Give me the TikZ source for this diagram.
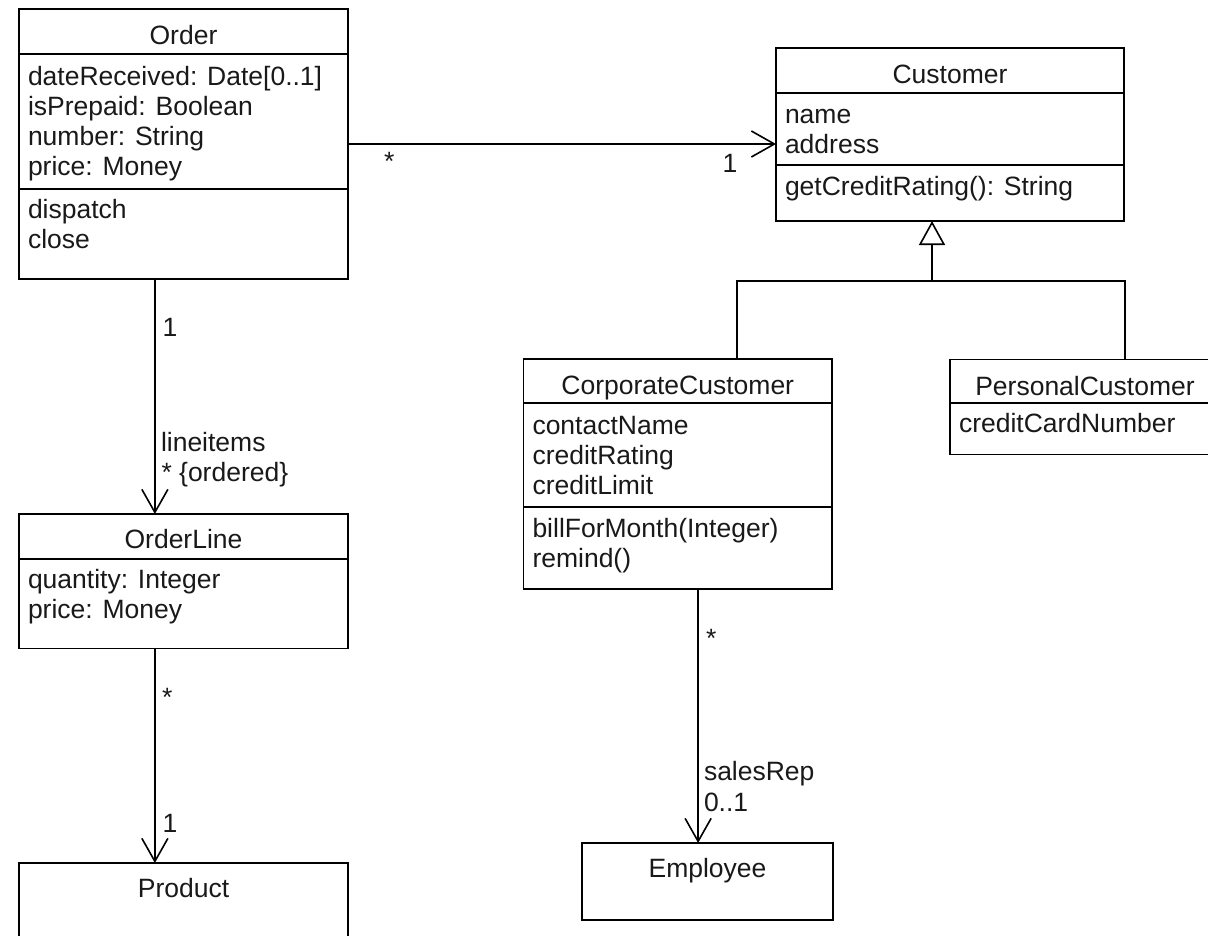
\documentclass[tikz,border=0pt]{standalone}
\usepackage{fontspec}
\setmainfont{Liberation Sans}
\usetikzlibrary{arrows.meta,calc}
\newcommand\umlfont{\fontsize{26.5}{30}\selectfont}
\tikzset{
  box/.style={draw, line width=1.6pt, rectangle, anchor=north west, inner sep=0pt, outer sep=0pt},
  sepline/.style={line width=1.6pt},
  lbl/.style={inner sep=0pt, outer sep=0pt, font=\umlfont, anchor=base west, text=black!90},
  ttl/.style={inner sep=0pt, outer sep=0pt, font=\umlfont, anchor=base, text=black!90},
  assoc/.style={line width=1.6pt, -{Straight Barb[length=23pt,width=26pt,line width=1.6pt]}},
  inh/.style={line width=1.6pt},
  gentip/.style={line width=1.6pt, -{Triangle[open,length=24pt,width=26pt,fill=white,line width=1.6pt]}},
}
\begin{document}
\begin{tikzpicture}[x=1pt,y=-1pt]
\useasboundingbox (0,0) rectangle (1208,935);
\begin{scope}
\clip (0,0) rectangle (1208,935);
\fill[white] (0,0) rectangle (1208,935);

% ---------- class boxes ----------
\node[box, minimum width=329pt, minimum height=270pt] (order) at (19,9) {};
\draw[sepline] ($(order.north west)+(0,45)$) -- ($(order.north east)+(0,45)$);
\draw[sepline] ($(order.north west)+(0,180)$) -- ($(order.north east)+(0,180)$);

\node[box, minimum width=348pt, minimum height=173pt] (customer) at (776,48) {};
\draw[sepline] ($(customer.north west)+(0,45)$) -- ($(customer.north east)+(0,45)$);
\draw[sepline] ($(customer.north west)+(0,117)$) -- ($(customer.north east)+(0,117)$);

\node[box, minimum width=308.5pt, minimum height=230pt] (corp) at (523.5,359) {};
\draw[sepline] ($(corp.north west)+(0,44)$) -- ($(corp.north east)+(0,44)$);
\draw[sepline] ($(corp.north west)+(0,148)$) -- ($(corp.north east)+(0,148)$);

\node[box, minimum width=270pt, minimum height=95pt] (pers) at (950,359.5) {};
\draw[sepline] ($(pers.north west)+(0,43.5)$) -- ($(pers.north east)+(0,43.5)$);

\node[box, minimum width=329pt, minimum height=134.5pt] (orderline) at (19,514) {};
\draw[sepline] ($(orderline.north west)+(0,45)$) -- ($(orderline.north east)+(0,45)$);

\node[box, minimum width=329pt, minimum height=120pt] (product) at (19,863) {};

\node[box, minimum width=251pt, minimum height=77pt] (employee) at (582,843) {};

% ---------- class texts ----------
\node[ttl] (orderT) at (183.5,44) {Order};
\node[lbl] (orderA1) at (28,85) {dateReceived: Date[0..1]};
\node[lbl] (orderA2) at (28,115) {isPrepaid: Boolean};
\node[lbl] (orderA3) at (28,145) {number: String};
\node[lbl] (orderA4) at (28,175) {price: Money};
\node[lbl] (orderM1) at (28,218) {dispatch};
\node[lbl] (orderM2) at (28,248) {close};

\node[ttl] (customerT) at (950,83) {Customer};
\node[lbl] (customerA1) at (785,123) {name};
\node[lbl] (customerA2) at (785,153) {address};
\node[lbl] (customerM1) at (785,195) {getCreditRating(): String};

\node[ttl] (corpT) at (677.75,394) {CorporateCustomer};
\node[lbl] (corpA1) at (532.5,434) {contactName};
\node[lbl] (corpA2) at (532.5,464) {creditRating};
\node[lbl] (corpA3) at (532.5,494) {creditLimit};
\node[lbl] (corpM1) at (532.5,537) {billForMonth(Integer)};
\node[lbl] (corpM2) at (532.5,567) {remind()};

\node[ttl] (persT) at (1085,395) {PersonalCustomer};
\node[lbl] (persA1) at (959,432) {creditCardNumber};

\node[ttl] (orderlineT) at (183.5,548.5) {OrderLine};
\node[lbl] (orderlineA1) at (28,588) {quantity: Integer};
\node[lbl] (orderlineA2) at (28,618) {price: Money};

\node[ttl] (productT) at (183.5,897.5) {Product};
\node[ttl] (employeeT) at (707.5,877) {Employee};

% ---------- associations ----------
\draw[assoc] (order.east) -- (order.east -| customer.west);
\coordinate (oA) at ($(order.south west)!0.413!(order.south east)$);
\draw[assoc] (oA) -- (oA |- orderline.north);
\coordinate (olA) at ($(orderline.south west)!0.413!(orderline.south east)$);
\draw[assoc] (olA) -- (olA |- product.north);
\coordinate (cA) at ($(corp.south west)!0.566!(corp.south east)$);
\draw[assoc] (cA) -- (cA |- employee.north);

% ---------- generalization ----------
\coordinate (gen) at ($(customer.south west)!0.4483!(customer.south east)+(0,60)$);
\coordinate (corpTop) at ($(corp.north west)!0.692!(corp.north east)$);
\coordinate (persTop) at ($(pers.north west)!0.648!(pers.north east)$);
\draw[inh] (corpTop) |- (gen) -| (persTop);
\draw[gentip] (gen) -- (gen |- customer.south);

% ---------- multiplicities and roles ----------
\node[lbl] (m1) at (384,170.5) {*};
\node[ttl] (m2) at (730,172) {1};
\node[ttl] (m3) at (170,336.5) {1};
\node[lbl] (r1) at (161,451) {lineitems};
\node[lbl] (m4) at (161.5,481) {* \{ordered\}};
\node[lbl] (m5) at (162,706) {*};
\node[ttl] (m6) at (170,832) {1};
\node[lbl] (m7) at (706,647) {*};
\node[lbl] (r2) at (704,780) {salesRep};
\node[lbl] (m8) at (704,811.5) {0..1};
\end{scope}
\end{tikzpicture}
\end{document}
